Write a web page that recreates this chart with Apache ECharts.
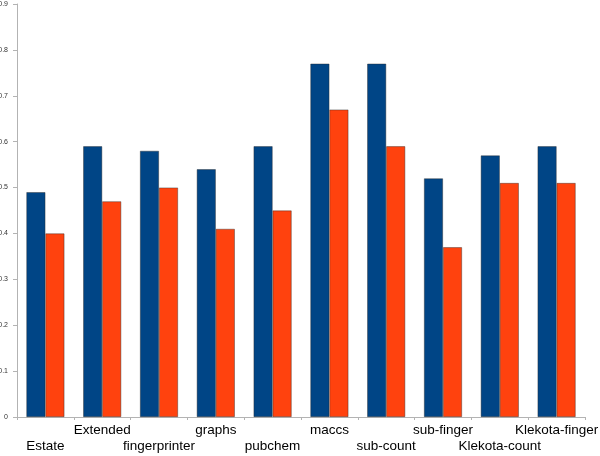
<!DOCTYPE html>
<html><head><meta charset="utf-8">
<script src="https://cdn.jsdelivr.net/npm/echarts@6/dist/echarts.min.js"></script>
<style>html,body{margin:0;padding:0;background:#fff}#c{width:600px;height:456px}</style>
</head><body><div id="c"></div>
<script>
const categories = ['Estate','Extended','fingerprinter','graphs','pubchem','maccs','sub-count','sub-finger','Klekota-count','Klekota-finger'];
const seriesA = [0.49,0.59,0.58,0.54,0.59,0.77,0.77,0.52,0.57,0.59];
const seriesB = [0.40,0.47,0.50,0.41,0.45,0.67,0.59,0.37,0.51,0.51];
const yMin = 0, yMax = 0.9, yStep = 0.1;

const chart = echarts.init(document.getElementById('c'), null, {renderer:'canvas'});
chart.setOption({
  animation:false,
  backgroundColor:'#fff',
  grid:{left:17,right:15,top:4,bottom:39,containLabel:false,outerBoundsMode:'none'},
  xAxis:{
    type:'category', data:categories,
    axisLine:{lineStyle:{color:'#b3b3b3',width:1}},
    axisTick:{show:true,length:3,lineStyle:{color:'#b3b3b3'}},
    axisLabel:{interval:0,margin:5,fontFamily:'Liberation Sans, Arial, sans-serif',fontSize:13.5,color:'#000',lineHeight:16,
      formatter:(v,i)=> i%2===0 ? '\n'+v : v}
  },
  yAxis:{
    type:'value', min:yMin, max:yMax, interval:yStep,
    axisLine:{show:true,lineStyle:{color:'#b3b3b3',width:1}},
    axisTick:{show:true,length:4,lineStyle:{color:'#b3b3b3'}},
    splitLine:{show:false},
    axisLabel:{margin:9,fontSize:7,color:'#333',fontFamily:'Liberation Sans, Arial, sans-serif',
      formatter:v=> v===0 ? '0' : v.toFixed(1)}
  },
  series:[
    {type:'bar',data:seriesA,barGap:'0%',barCategoryGap:'33%',itemStyle:{color:'#004586',borderColor:'rgba(40,40,40,0.6)',borderWidth:0.7}},
    {type:'bar',data:seriesB,barGap:'0%',barCategoryGap:'33%',itemStyle:{color:'#ff420e',borderColor:'rgba(40,40,40,0.6)',borderWidth:0.7}}
  ]
});
</script></body></html>
